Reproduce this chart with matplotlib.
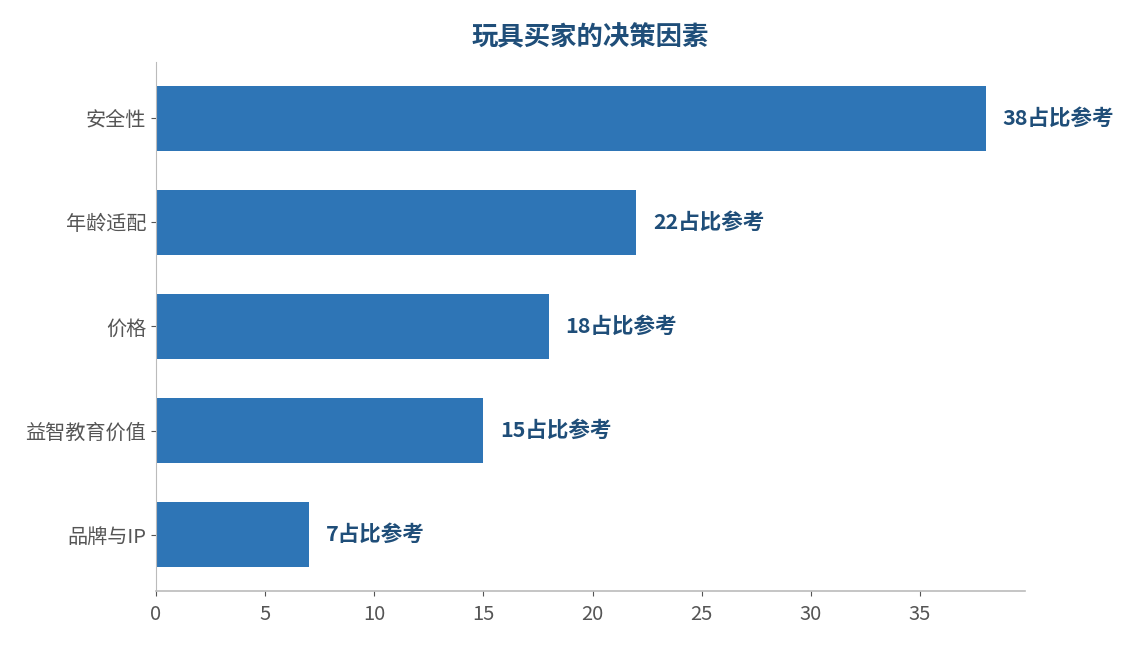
import matplotlib
matplotlib.use("Agg")
import matplotlib.pyplot as plt

plt.rcParams['font.family'] = ['Noto Sans CJK SC', 'DejaVu Sans']

categories = ["安全性", "年龄适配", "价格", "益智教育价值", "品牌与IP"]
values = [38, 22, 18, 15, 7]
label_suffix = "占比参考"

bar_color = "#2E75B6"
text_color = "#1F4E79"
grey = "#555555"

fig = plt.figure(figsize=(11.25, 6.45), dpi=100)
ax = fig.add_axes([0.1387, 0.0837, 0.7723, 0.8202])

pos = list(range(len(categories)))
ax.barh(pos, values, height=0.62, color=bar_color)
ax.invert_yaxis()
ax.set_yticks(pos)
ax.set_yticklabels(categories)
ax.set_xlim(0, 39.8)
ax.set_xticks([0, 5, 10, 15, 20, 25, 30, 35])

for p, v in zip(pos, values):
    ax.annotate(f"{v}{label_suffix}", xy=(v, p), xytext=(12, 0),
                textcoords="offset points", va="center", ha="left",
                fontsize=15.5, fontweight="bold", color=text_color)

ax.set_title("玩具买家的决策因素", fontsize=19, fontweight="bold",
             color=text_color, pad=12)

for side in ["top", "right"]:
    ax.spines[side].set_visible(False)
for side in ["left", "bottom"]:
    ax.spines[side].set_color("#bbbbbb")
ax.spines["bottom"].set_linewidth(1.2)
ax.tick_params(axis="both", colors=grey, labelsize=14.5)
ax.tick_params(axis="both", color="#555555")
ax.tick_params(axis="x", pad=6)

fig.savefig("out.png", dpi=100)
